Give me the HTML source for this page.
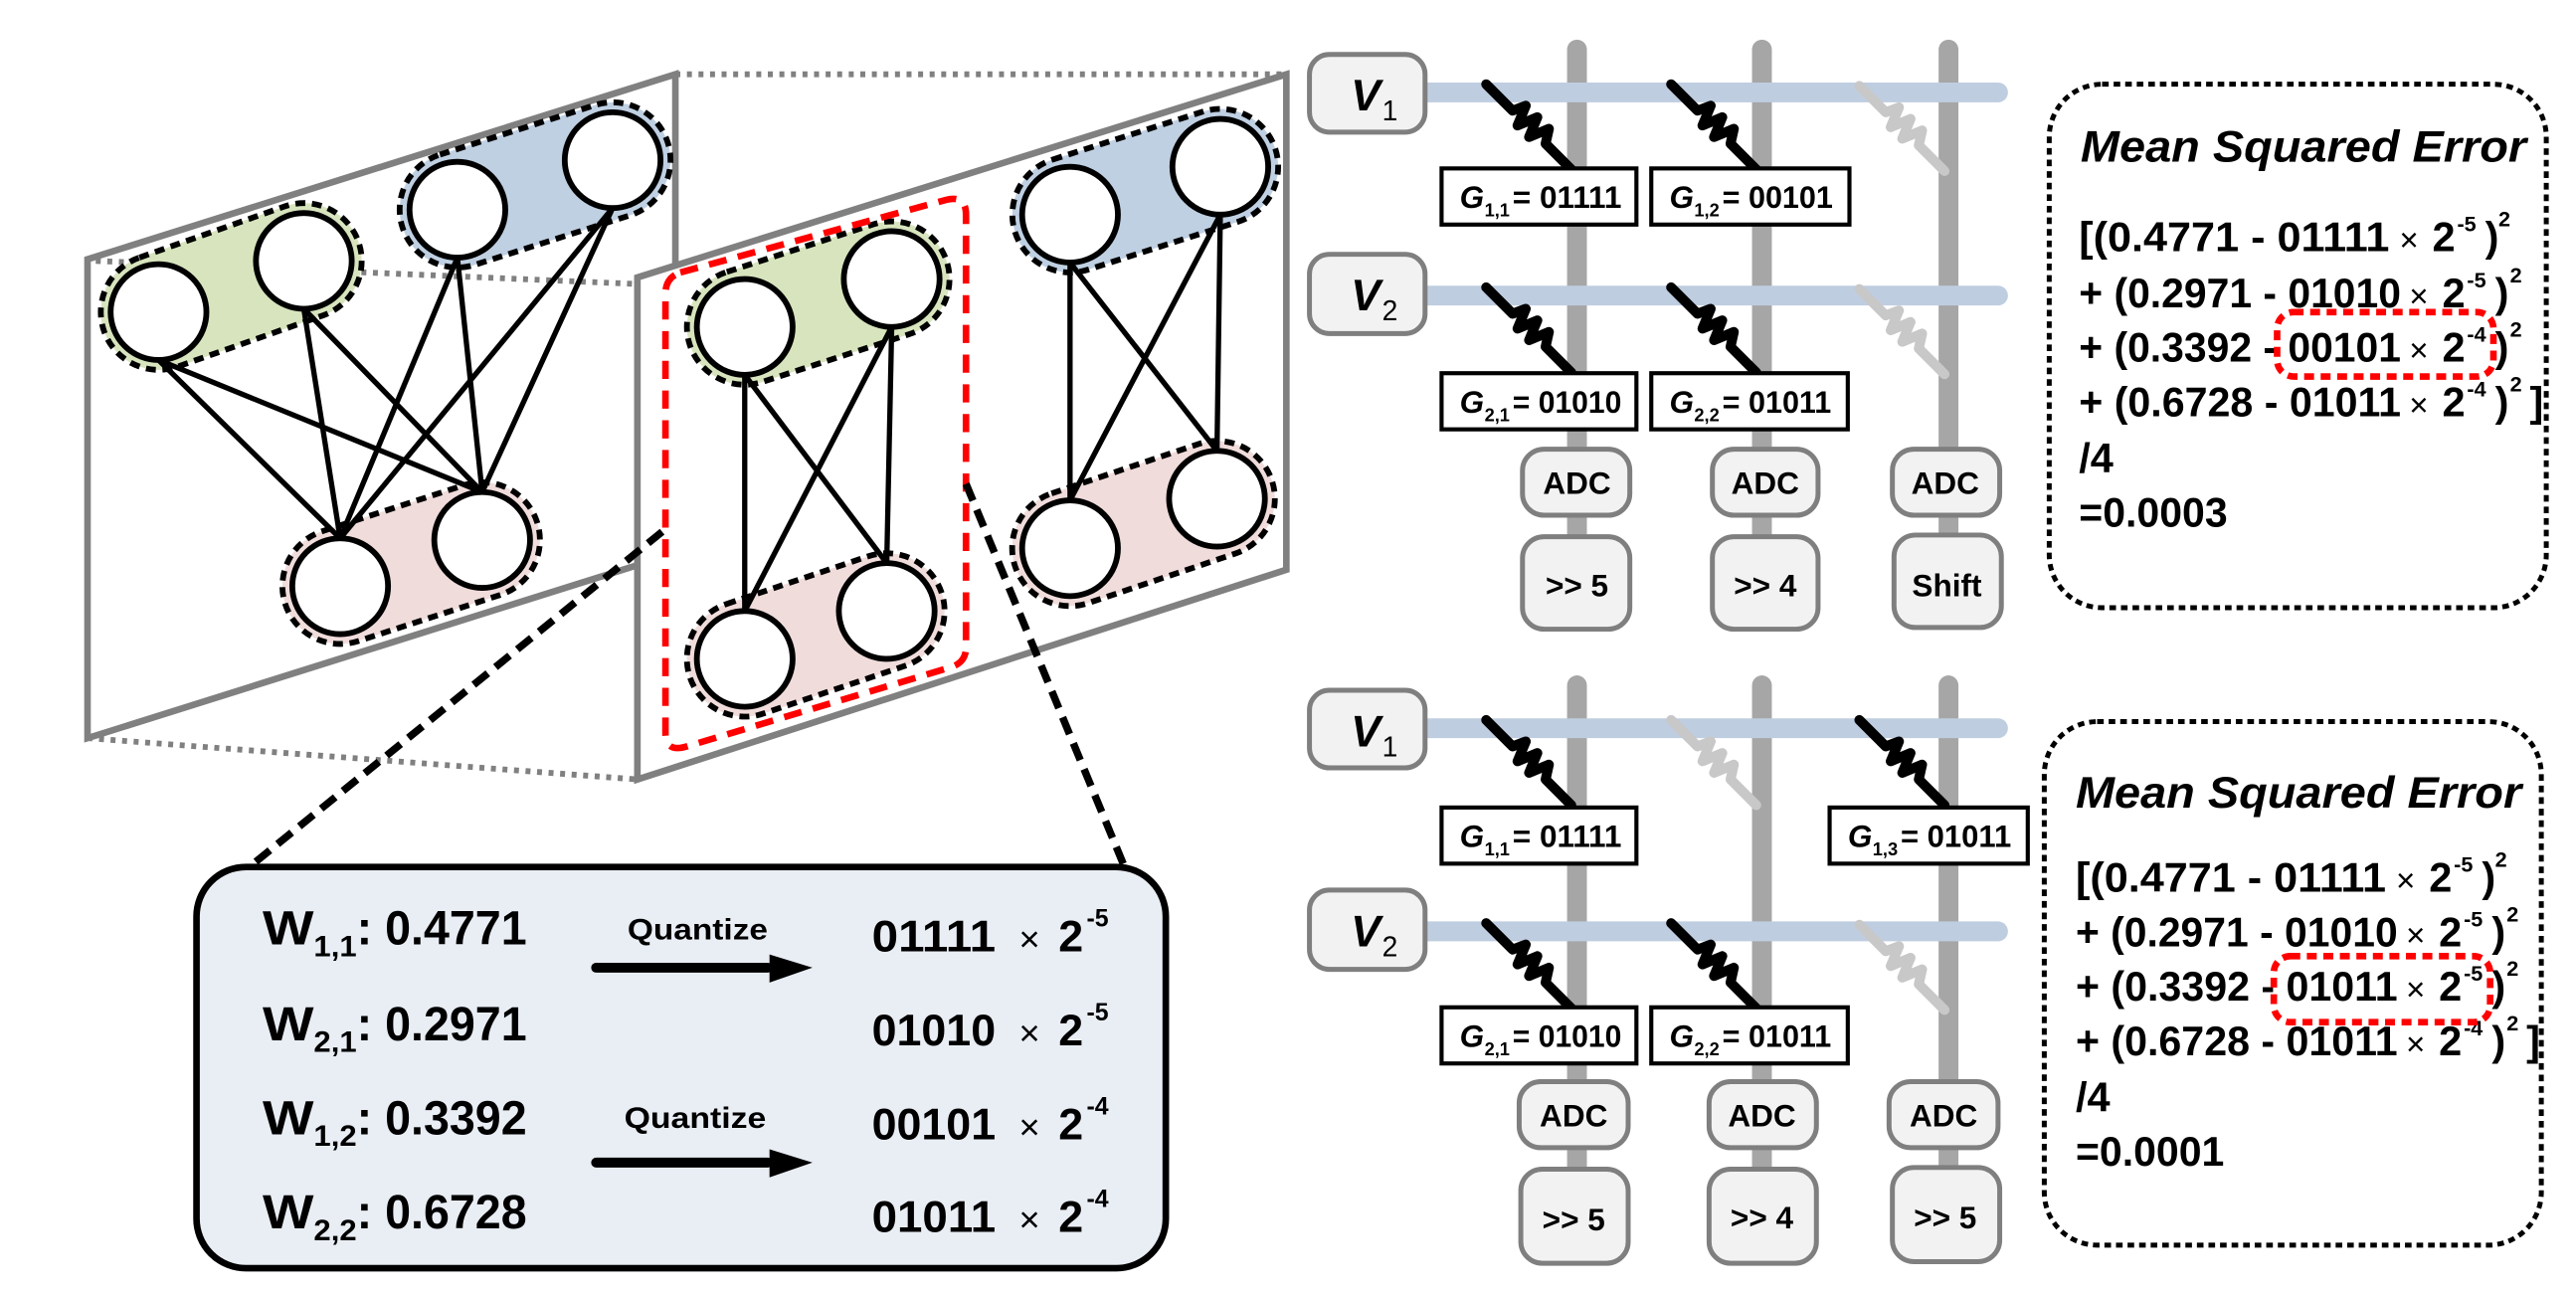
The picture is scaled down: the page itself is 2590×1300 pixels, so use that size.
<!DOCTYPE html>
<html><head><meta charset="utf-8">
<style>
html,body{margin:0;padding:0;background:#fff;}
svg{display:block;}
text{font-family:"Liberation Sans",sans-serif;font-weight:bold;fill:#000;}
</style></head>
<body>
<svg width="2590" height="1300" viewBox="0 0 1560 783" preserveAspectRatio="none" xmlns="http://www.w3.org/2000/svg">
<defs>
<g id="res">
<path d="M0,0 L16,16 L24,13 L19,25 L31,20 L26,32 L38,27 L36,36 L51.6,51.6" fill="none" stroke-width="6" stroke-linecap="round" stroke-linejoin="round"/>
</g>
</defs>

<g stroke="#808080" stroke-width="3.5" stroke-dasharray="3 4" fill="none">
<line x1="409" y1="45" x2="779" y2="45"/>
<line x1="53" y1="447" x2="386" y2="472"/>
</g>
<polygon points="53,157 409,45 409,335 53,447" fill="#fff" stroke="#808080" stroke-width="4"/>
<line x1="58" y1="158" x2="386" y2="172" stroke="#808080" stroke-width="3.5" stroke-dasharray="3 4"/>
<g stroke="#000" stroke-width="3.5" stroke-dasharray="6 4">
<rect transform="translate(140,173.5) rotate(-19.4)" x="-81.6" y="-35" width="163.3" height="70" rx="35" fill="#d7e4bd"/>
<rect transform="translate(324,112) rotate(-17.7)" x="-84.3" y="-35" width="168.7" height="70" rx="35" fill="#c0d0e3"/>
<rect transform="translate(249,341) rotate(-18)" x="-80.2" y="-35" width="160.4" height="70" rx="35" fill="#f0dcdb"/>
</g>
<g stroke="#000" stroke-width="3.2">
<line x1="96" y1="218" x2="206" y2="326"/><line x1="96" y1="218" x2="292" y2="298"/>
<line x1="184" y1="187" x2="206" y2="326"/><line x1="184" y1="187" x2="292" y2="298"/>
<line x1="277" y1="156" x2="206" y2="326"/><line x1="277" y1="156" x2="292" y2="298"/>
<line x1="371" y1="126" x2="206" y2="326"/><line x1="371" y1="126" x2="292" y2="298"/>
</g>
<g fill="#fff" stroke="#000" stroke-width="3.5">
<circle cx="96" cy="189" r="29"/><circle cx="184" cy="158" r="29"/>
<circle cx="277" cy="127" r="29"/><circle cx="371" cy="97" r="29"/>
<circle cx="206" cy="355" r="29"/><circle cx="292" cy="327" r="29"/>
</g>

<polygon points="386,168 779,45 779,345 386,472" fill="#fff" stroke="#808080" stroke-width="4"/>
<g stroke="#000" stroke-width="3.5" stroke-dasharray="6 4">
<rect transform="translate(495.5,183.5) rotate(-18)" x="-81.8" y="-35" width="163.6" height="70" rx="35" fill="#d7e4bd"/>
<rect transform="translate(494,384.5) rotate(-18.6)" x="-80.4" y="-35" width="160.8" height="70" rx="35" fill="#f0dcdb"/>
<rect transform="translate(693.5,115.5) rotate(-17.7)" x="-82.7" y="-35" width="165.5" height="70" rx="35" fill="#c0d0e3"/>
<rect transform="translate(692.5,317) rotate(-18.6)" x="-82" y="-35" width="164" height="70" rx="35" fill="#f0dcdb"/>
</g>
<g stroke="#000" stroke-width="3.2">
<line x1="451" y1="227" x2="451" y2="370"/><line x1="451" y1="227" x2="537" y2="341"/>
<line x1="540" y1="198" x2="451" y2="370"/><line x1="540" y1="198" x2="537" y2="341"/>
<line x1="648" y1="159" x2="648" y2="303"/><line x1="648" y1="159" x2="737" y2="273"/>
<line x1="739" y1="130" x2="737" y2="273"/><line x1="739" y1="130" x2="648" y2="303"/>
</g>
<g fill="#fff" stroke="#000" stroke-width="3.5">
<circle cx="451" cy="198" r="29"/><circle cx="540" cy="169" r="29"/>
<circle cx="451" cy="399" r="29"/><circle cx="537" cy="370" r="29"/>
<circle cx="648" cy="130" r="29"/><circle cx="739" cy="101" r="29"/>
<circle cx="648" cy="332" r="29"/><circle cx="737" cy="302" r="29"/>
</g>
<path d="M412,165 L573,121 Q585,118 585,130 L585,392 Q585,401 576,404 L416,452 Q403,456 403,444 L403,178 Q403,168 412,165 Z" fill="none" stroke="#ff0000" stroke-width="4" stroke-dasharray="11 7"/>

<g stroke="#000" stroke-width="4.5" stroke-dasharray="11 6">
<line x1="401" y1="322" x2="151" y2="525"/>
<line x1="585" y1="293" x2="681" y2="525"/>
</g>

<rect x="119" y="525" width="587" height="243" rx="30" fill="#e9edf4" stroke="#000" stroke-width="4"/>
<g font-size="29">
<text x="159" y="572" textLength="31" lengthAdjust="spacingAndGlyphs">W</text>
<text x="190" y="579" font-size="18" textLength="26" lengthAdjust="spacingAndGlyphs">1,1</text>
<text x="216" y="572" textLength="103" lengthAdjust="spacingAndGlyphs">: 0.4771</text>
<text x="159" y="630" textLength="31" lengthAdjust="spacingAndGlyphs">W</text>
<text x="190" y="637" font-size="18" textLength="26" lengthAdjust="spacingAndGlyphs">2,1</text>
<text x="216" y="630" textLength="103" lengthAdjust="spacingAndGlyphs">: 0.2971</text>
<text x="159" y="687" textLength="31" lengthAdjust="spacingAndGlyphs">W</text>
<text x="190" y="694" font-size="18" textLength="26" lengthAdjust="spacingAndGlyphs">1,2</text>
<text x="216" y="687" textLength="103" lengthAdjust="spacingAndGlyphs">: 0.3392</text>
<text x="159" y="744" textLength="31" lengthAdjust="spacingAndGlyphs">W</text>
<text x="190" y="751" font-size="18" textLength="26" lengthAdjust="spacingAndGlyphs">2,2</text>
<text x="216" y="744" textLength="103" lengthAdjust="spacingAndGlyphs">: 0.6728</text>
</g>
<g font-size="18">
<text x="380" y="569" textLength="85" lengthAdjust="spacingAndGlyphs">Quantize</text>
<text x="378" y="683" textLength="86" lengthAdjust="spacingAndGlyphs">Quantize</text>
</g>
<g fill="#000">
<rect x="358" y="583" width="110" height="6" rx="3"/><polygon points="466,578 492,586 466,595"/>
<rect x="358" y="701" width="110" height="6" rx="3"/><polygon points="466,696 492,704 466,713"/>
</g>
<g font-size="27">
<text x="528" y="576" textLength="75" lengthAdjust="spacingAndGlyphs">01111</text>
<text x="528" y="633" textLength="75" lengthAdjust="spacingAndGlyphs">01010</text>
<text x="528" y="690" textLength="75" lengthAdjust="spacingAndGlyphs">00101</text>
<text x="528" y="746" textLength="75" lengthAdjust="spacingAndGlyphs">01011</text>
</g>
<g font-size="22">
<text x="617" y="576" style="font-weight:normal">×</text>
<text x="617" y="633" style="font-weight:normal">×</text>
<text x="617" y="690" style="font-weight:normal">×</text>
<text x="617" y="746" style="font-weight:normal">×</text>
</g>
<g font-size="27">
<text x="641" y="576">2</text><text x="641" y="633">2</text><text x="641" y="690">2</text><text x="641" y="746">2</text>
</g>
<g font-size="15">
<text x="658" y="561">-5</text><text x="658" y="618">-5</text><text x="658" y="675">-4</text><text x="658" y="731">-4</text>
</g>

<g id="circ-common">
<g stroke="#a6a6a6" stroke-width="12" stroke-linecap="round">
<line x1="955" y1="30" x2="955" y2="340"/>
<line x1="1067" y1="30" x2="1067" y2="340"/>
<line x1="1180" y1="30" x2="1180" y2="340"/>
</g>
<g stroke="#bfcde0" stroke-width="12" stroke-linecap="round">
<line x1="862" y1="56" x2="1210" y2="56"/>
<line x1="862" y1="179" x2="1210" y2="179"/>
</g>
<g fill="#f2f2f2" stroke="#7f7f7f" stroke-width="3">
<rect x="793" y="33" width="70" height="47" rx="12"/>
<rect x="793" y="154" width="70" height="48" rx="12"/>
</g>
<text x="818" y="67" font-size="27" font-style="italic">V</text><text x="837" y="73" font-size="17" style="font-weight:normal">1</text>
<text x="818" y="188" font-size="27" font-style="italic">V</text><text x="837" y="194" font-size="17" style="font-weight:normal">2</text>
</g>
<use href="#res" x="900" y="51" stroke="#000"/>
<use href="#res" x="1012" y="51" stroke="#000"/>
<use href="#res" x="1126" y="52" stroke="#c8c8c8"/>
<use href="#res" x="900" y="174" stroke="#000"/>
<use href="#res" x="1012" y="174" stroke="#000"/>
<use href="#res" x="1126" y="175" stroke="#c8c8c8"/>
<g fill="#fff" stroke="#000" stroke-width="2.5">
<rect x="873" y="102" width="118" height="34"/>
<rect x="1000" y="102" width="120" height="34"/>
<rect x="873" y="226" width="118" height="34"/>
<rect x="1000" y="226" width="119" height="34"/>
</g>
<g font-size="19">
<text x="884" y="126" font-style="italic">G</text><text x="899" y="131" font-size="11">1,1</text><text x="916" y="126" textLength="66" lengthAdjust="spacingAndGlyphs">= 01111</text>
<text x="1011" y="126" font-style="italic">G</text><text x="1026" y="131" font-size="11">1,2</text><text x="1043" y="126" textLength="67" lengthAdjust="spacingAndGlyphs">= 00101</text>
<text x="884" y="250" font-style="italic">G</text><text x="899" y="255" font-size="11">2,1</text><text x="916" y="250" textLength="66" lengthAdjust="spacingAndGlyphs">= 01010</text>
<text x="1011" y="250" font-style="italic">G</text><text x="1026" y="255" font-size="11">2,2</text><text x="1043" y="250" textLength="66" lengthAdjust="spacingAndGlyphs">= 01011</text>
</g>
<g fill="#f2f2f2" stroke="#7f7f7f" stroke-width="3">
<rect x="922" y="272" width="65" height="40" rx="13"/>
<rect x="1037" y="272" width="64" height="40" rx="13"/>
<rect x="1146" y="272" width="65" height="40" rx="13"/>
<rect x="922" y="325" width="65" height="56" rx="13"/>
<rect x="1037" y="325" width="64" height="56" rx="13"/>
<rect x="1147" y="324" width="65" height="56" rx="13"/>
</g>
<g font-size="19" text-anchor="middle">
<text x="955" y="299">ADC</text><text x="1069" y="299">ADC</text><text x="1178" y="299">ADC</text>
<text x="955" y="361">&gt;&gt; 5</text><text x="1069" y="361">&gt;&gt; 4</text><text x="1179" y="361">Shift</text>
</g>
<rect x="1241" y="51" width="301" height="317" rx="32" fill="none" stroke="#000" stroke-width="3" stroke-dasharray="4 3"/>
<text x="1260" y="98" font-size="27" font-style="italic" textLength="270" lengthAdjust="spacingAndGlyphs">Mean Squared Error</text>
<g font-size="25">
<text x="1259" y="152" textLength="188" lengthAdjust="spacingAndGlyphs">[(0.4771 - 01111</text>
<text x="1259" y="186" textLength="195" lengthAdjust="spacingAndGlyphs">+ (0.2971 - 01010</text>
<text x="1259" y="219" textLength="195" lengthAdjust="spacingAndGlyphs">+ (0.3392 - 00101</text>
<text x="1259" y="252" textLength="195" lengthAdjust="spacingAndGlyphs">+ (0.6728 - 01011</text>
<text x="1259" y="286">/4</text>
<text x="1259" y="319" textLength="90" lengthAdjust="spacingAndGlyphs">=0.0003</text>
<text x="1473" y="152">2</text><text x="1479" y="186">2</text><text x="1479" y="219">2</text><text x="1479" y="252">2</text>
<text x="1505" y="152">)</text><text x="1511" y="186">)</text><text x="1511" y="219">)</text><text x="1511" y="252">)</text>
<text x="1532" y="252">]</text>
</g>
<g font-size="20">
<text x="1453" y="152" style="font-weight:normal">×</text><text x="1459" y="186" style="font-weight:normal">×</text>
<text x="1459" y="219" style="font-weight:normal">×</text><text x="1459" y="252" style="font-weight:normal">×</text>
</g>
<g font-size="13">
<text x="1488" y="140">-5</text><text x="1494" y="174">-5</text><text x="1494" y="207">-4</text><text x="1494" y="240">-4</text>
<text x="1513" y="137">2</text><text x="1520" y="171">2</text><text x="1520" y="204">2</text><text x="1520" y="237">2</text>
</g>
<rect x="1379" y="189" width="131" height="39" rx="10" fill="none" stroke="#ff0000" stroke-width="4" stroke-dasharray="6 4"/>

<use href="#circ-common" x="0" y="385"/>
<use href="#res" x="900" y="436" stroke="#000"/>
<use href="#res" x="1012" y="436" stroke="#c8c8c8"/>
<use href="#res" x="1126" y="436" stroke="#000"/>
<use href="#res" x="900" y="559" stroke="#000"/>
<use href="#res" x="1012" y="559" stroke="#000"/>
<use href="#res" x="1126" y="560" stroke="#c8c8c8"/>
<g fill="#fff" stroke="#000" stroke-width="2.5">
<rect x="873" y="489" width="118" height="34"/>
<rect x="1108" y="489" width="120" height="34"/>
<rect x="873" y="610" width="118" height="34"/>
<rect x="1000" y="610" width="119" height="34"/>
</g>
<g font-size="19">
<text x="884" y="513" font-style="italic">G</text><text x="899" y="518" font-size="11">1,1</text><text x="916" y="513" textLength="66" lengthAdjust="spacingAndGlyphs">= 01111</text>
<text x="1119" y="513" font-style="italic">G</text><text x="1134" y="518" font-size="11">1,3</text><text x="1151" y="513" textLength="67" lengthAdjust="spacingAndGlyphs">= 01011</text>
<text x="884" y="634" font-style="italic">G</text><text x="899" y="639" font-size="11">2,1</text><text x="916" y="634" textLength="66" lengthAdjust="spacingAndGlyphs">= 01010</text>
<text x="1011" y="634" font-style="italic">G</text><text x="1026" y="639" font-size="11">2,2</text><text x="1043" y="634" textLength="66" lengthAdjust="spacingAndGlyphs">= 01011</text>
</g>
<g fill="#f2f2f2" stroke="#7f7f7f" stroke-width="3">
<rect x="920" y="655" width="66" height="40" rx="13"/>
<rect x="1035" y="655" width="65" height="40" rx="13"/>
<rect x="1144" y="655" width="66" height="40" rx="13"/>
<rect x="921" y="708" width="65" height="57" rx="13"/>
<rect x="1035" y="708" width="65" height="57" rx="13"/>
<rect x="1146" y="707" width="65" height="57" rx="13"/>
</g>
<g font-size="19" text-anchor="middle">
<text x="953" y="682">ADC</text><text x="1067" y="682">ADC</text><text x="1177" y="682">ADC</text>
<text x="953" y="745">&gt;&gt; 5</text><text x="1067" y="744">&gt;&gt; 4</text><text x="1178" y="744">&gt;&gt; 5</text>
</g>
<rect x="1238" y="437" width="301" height="317" rx="32" fill="none" stroke="#000" stroke-width="3" stroke-dasharray="4 3"/>
<text x="1257" y="489" font-size="27" font-style="italic" textLength="270" lengthAdjust="spacingAndGlyphs">Mean Squared Error</text>
<g font-size="25">
<text x="1257" y="540" textLength="188" lengthAdjust="spacingAndGlyphs">[(0.4771 - 01111</text>
<text x="1257" y="573" textLength="195" lengthAdjust="spacingAndGlyphs">+ (0.2971 - 01010</text>
<text x="1257" y="606" textLength="195" lengthAdjust="spacingAndGlyphs">+ (0.3392 - 01011</text>
<text x="1257" y="639" textLength="195" lengthAdjust="spacingAndGlyphs">+ (0.6728 - 01011</text>
<text x="1257" y="673">/4</text>
<text x="1257" y="706" textLength="90" lengthAdjust="spacingAndGlyphs">=0.0001</text>
<text x="1471" y="540">2</text><text x="1477" y="573">2</text><text x="1477" y="606">2</text><text x="1477" y="639">2</text>
<text x="1503" y="540">)</text><text x="1509" y="573">)</text><text x="1509" y="606">)</text><text x="1509" y="639">)</text>
<text x="1530" y="639">]</text>
</g>
<g font-size="20">
<text x="1451" y="540" style="font-weight:normal">×</text><text x="1457" y="573" style="font-weight:normal">×</text>
<text x="1457" y="606" style="font-weight:normal">×</text><text x="1457" y="639" style="font-weight:normal">×</text>
</g>
<g font-size="13">
<text x="1486" y="528">-5</text><text x="1492" y="561">-5</text><text x="1492" y="594">-5</text><text x="1492" y="627">-4</text>
<text x="1511" y="525">2</text><text x="1518" y="558">2</text><text x="1518" y="591">2</text><text x="1518" y="624">2</text>
</g>
<rect x="1377" y="579" width="131" height="40" rx="10" fill="none" stroke="#ff0000" stroke-width="4" stroke-dasharray="6 4"/>
</svg>
</body></html>
